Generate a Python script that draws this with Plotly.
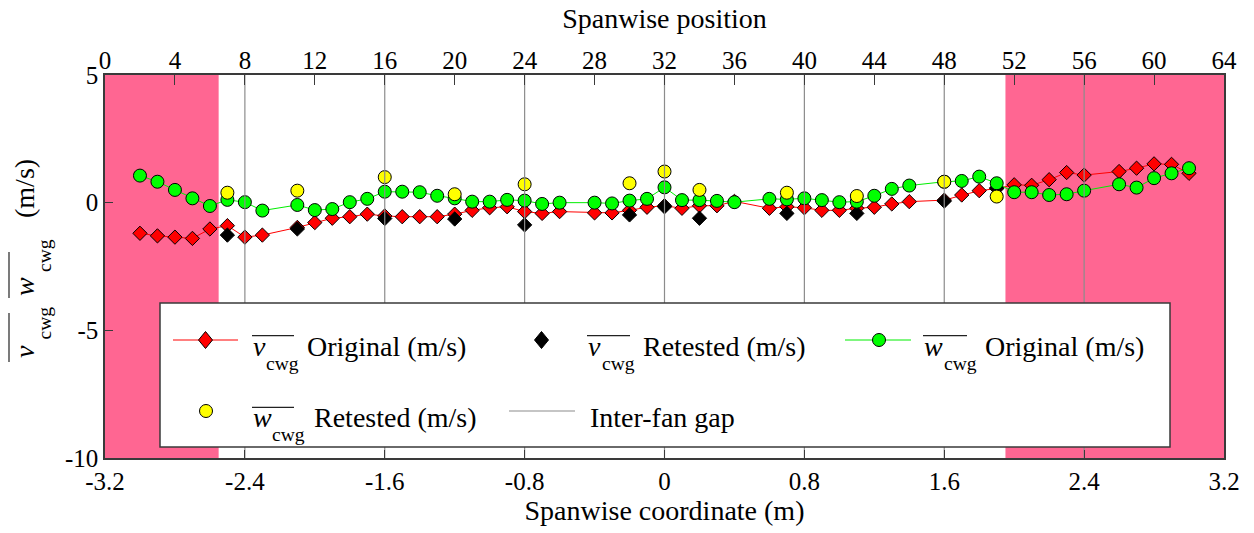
import plotly.graph_objects as go

# ---------------- data ----------------
pos_orig = [-3.0, -2.9, -2.8, -2.7, -2.6, -2.5, -2.4, -2.3, -2.1, -2.0, -1.9, -1.8, -1.7, -1.6,
            -1.5, -1.4, -1.3, -1.2, -1.1, -1.0, -0.9, -0.8, -0.7, -0.6, -0.4, -0.3, -0.2, -0.1,
            0.0, 0.1, 0.2, 0.3, 0.4, 0.6, 0.7, 0.8, 0.9, 1.0, 1.1, 1.2, 1.3, 1.4, 1.6, 1.7,
            1.8, 1.9, 2.0, 2.1, 2.2, 2.3, 2.4, 2.6, 2.7, 2.8, 2.9, 3.0]
v_orig = [-1.20, -1.30, -1.35, -1.40, -1.03, -0.90, -1.35, -1.27, -0.97, -0.78, -0.61, -0.55, -0.45, -0.52,
          -0.55, -0.55, -0.55, -0.45, -0.30, -0.20, -0.16, -0.35, -0.42, -0.35, -0.40, -0.40, -0.30, -0.18,
          -0.12, -0.22, -0.12, -0.12, 0.05, -0.22, -0.16, -0.20, -0.30, -0.30, -0.22, -0.18, -0.05, 0.04, 0.10, 0.30,
          0.47, 0.55, 0.70, 0.68, 0.90, 1.18, 1.08, 1.22, 1.35, 1.52, 1.50, 1.15]
w_orig = [1.06, 0.82, 0.50, 0.17, -0.13, 0.11, 0.02, -0.31, -0.09, -0.29, -0.25, 0.02, 0.15, 0.43,
          0.43, 0.41, 0.27, 0.17, 0.04, 0.04, 0.11, 0.08, -0.05, 0.00, 0.00, -0.03, 0.08, 0.15,
          0.60, 0.10, 0.10, 0.07, 0.02, 0.15, 0.13, 0.17, 0.10, 0.02, 0.04, 0.27, 0.54, 0.67, 0.82, 0.85,
          1.02, 0.76, 0.41, 0.41, 0.30, 0.33, 0.47, 0.72, 0.59, 0.96, 1.15, 1.35]

pos_retest = [-2.5, -2.1, -1.6, -1.2, -0.8, -0.2, 0.0, 0.2, 0.7, 1.1, 1.6, 1.9]
v_retest = [-1.27, -1.03, -0.62, -0.64, -0.87, -0.48, -0.16, -0.61, -0.42, -0.42, 0.06, 0.58]
w_retest = [0.39, 0.47, 1.00, 0.33, 0.72, 0.76, 1.22, 0.50, 0.39, 0.26, 0.82, 0.24]

gap_positions = [8, 16, 24, 32, 40, 48, 56]          # spanwise position (top axis)
shaded_regions = [(-3.2, -2.55), (1.95, 3.2)]        # spanwise coordinate (m)

x_ticks = [-3.2, -2.4, -1.6, -0.8, 0.0, 0.8, 1.6, 2.4, 3.2]
x_ticktext = ["-3.2", "-2.4", "-1.6", "-0.8", "0", "0.8", "1.6", "2.4", "3.2"]
top_ticks = list(range(0, 65, 4))
y_ticks = [-10, -5, 0, 5]
y_ticktext = ["-10", "-5", "0", "5"]

# ---------------- styling ----------------
FONT = "Liberation Serif"
AX = "#3a3a3a"
PINK = "#FF6692"
W, H = 1254, 533
ML, MR, MT, MB = 105, 30, 75, 75
PW, PH = W - ML - MR, H - MT - MB

def X(px):
    return (px - ML) / PW

def Y(py):
    return (H - MB - py) / PH

fig = go.Figure()

# inter-fan gap lines (top axis coordinates)
gx, gy = [], []
for g in gap_positions:
    gx += [g, g, None]
    gy += [-10, 5, None]
fig.add_trace(go.Scatter(x=gx, y=gy, xaxis="x2", yaxis="y", mode="lines",
                         line=dict(color="#8c8c8c", width=1.2), hoverinfo="skip", showlegend=False))

fig.add_trace(go.Scatter(x=pos_orig, y=v_orig, mode="lines+markers",
                         line=dict(color="#FF0000", width=1),
                         marker=dict(symbol="diamond", size=11, color="#FF0000",
                                     line=dict(color="black", width=1)), showlegend=False))
fig.add_trace(go.Scatter(x=pos_retest, y=v_retest, mode="markers",
                         marker=dict(symbol="diamond", size=11, color="black",
                                     line=dict(color="black", width=1)), showlegend=False))
fig.add_trace(go.Scatter(x=pos_orig, y=w_orig, mode="lines+markers",
                         line=dict(color="#00EE00", width=1),
                         marker=dict(symbol="circle", size=13, color="#00FF00",
                                     line=dict(color="black", width=1)), showlegend=False))
fig.add_trace(go.Scatter(x=pos_retest, y=w_retest, mode="markers",
                         marker=dict(symbol="circle", size=13, color="#FFFF00",
                                     line=dict(color="black", width=1)), showlegend=False))

shapes = []
for a, b in shaded_regions:
    shapes.append(dict(type="rect", xref="x", yref="paper", x0=a, x1=b, y0=0, y1=1,
                       fillcolor=PINK, line=dict(width=0), layer="below"))

# ---------------- manual legend ----------------
LB = dict(x0=160, x1=1170, y0=303, y1=447)
shapes.append(dict(type="rect", xref="paper", yref="paper", x0=X(LB["x0"]), x1=X(LB["x1"]),
                   y0=Y(LB["y1"]), y1=Y(LB["y0"]), fillcolor="white",
                   line=dict(color=AX, width=1.5), layer="above"))

def hline(x0, x1, y, color, width=1):
    shapes.append(dict(type="line", xref="paper", yref="paper", x0=X(x0), x1=X(x1), y0=Y(y), y1=Y(y),
                       line=dict(color=color, width=width), layer="above"))

def vline(x, y0, y1, color, width=1):
    shapes.append(dict(type="line", xref="paper", yref="paper", x0=X(x), x1=X(x), y0=Y(y0), y1=Y(y1),
                       line=dict(color=color, width=width), layer="above"))

def diamond(cx, cy, hw, hh, fill):
    path = "M {a},{b} L {c},{d} L {e},{f} L {g},{h} Z".format(
        a=X(cx - hw), b=Y(cy), c=X(cx), d=Y(cy - hh), e=X(cx + hw), f=Y(cy), g=X(cx), h=Y(cy + hh))
    shapes.append(dict(type="path", xref="paper", yref="paper", path=path, fillcolor=fill,
                       line=dict(color="black", width=1), layer="above"))

def circle(cx, cy, r, fill):
    shapes.append(dict(type="circle", xref="paper", yref="paper", x0=X(cx - r), x1=X(cx + r),
                       y0=Y(cy + r), y1=Y(cy - r), fillcolor=fill,
                       line=dict(color="black", width=1), layer="above"))

R1, R2 = 340, 411
hline(173, 238, R1, "#FF0000")
diamond(205.5, R1, 7, 8.5, "#FF0000")
diamond(541.5, R1, 7, 8.5, "black")
hline(845, 911, R1, "#00EE00")
circle(879, R1, 6.5, "#00FF00")
circle(206, R2, 6.5, "#FFFF00")
hline(509, 575, R2, "#8c8c8c", 1.2)

# overlines
hline(252, 294, 335.7, "#222222", 1.2)
hline(587, 630, 335.7, "#222222", 1.2)
hline(923, 967, 335.7, "#222222", 1.2)
hline(252, 294, 407.3, "#222222", 1.2)

annotations = []

def txt(s, px, py, size, angle=0, xanchor="left"):
    annotations.append(dict(text=s, xref="paper", yref="paper", x=X(px), y=Y(py),
                            xanchor=xanchor, yanchor="middle", showarrow=False, textangle=angle,
                            font=dict(family=FONT, size=size, color="black")))

LF, SF = 28, 19.6
# row 1
txt("<i>v</i>", 251, 346.5, LF)
txt("cwg", 264, 363.5, SF)
txt("Original (m/s)", 305, 346.5, LF)
txt("<i>v</i>", 586, 346.5, LF)
txt("cwg", 600, 363.5, SF)
txt("Retested (m/s)", 641, 346.5, LF)
txt("<i>w</i>", 922, 346.5, LF)
txt("cwg", 942, 363.5, SF)
txt("Original (m/s)", 983, 346.5, LF)
# row 2
txt("<i>w</i>", 251, 417.5, LF)
txt("cwg", 270, 434.5, SF)
txt("Retested (m/s)", 312, 417.5, LF)
txt("Inter-fan gap", 588, 417.5, LF)

# y-axis title (rotated pieces)
txt("<i>v</i>", 24, 351, LF, -90, "center")
txt("cwg", 44, 323.5, SF, -90, "center")
txt("<i>w</i>", 24, 286, LF, -90, "center")
txt("cwg", 44, 256, SF, -90, "center")
txt("(m/s)", 24, 188, LF, -90, "center")
vline(9, 313, 362, "#222222", 1.2)
vline(9, 252, 298, "#222222", 1.2)

fig.update_layout(
    width=W, height=H,
    margin=dict(l=ML, r=MR, t=MT, b=MB),
    paper_bgcolor="white", plot_bgcolor="white",
    font=dict(family=FONT, size=25, color="black"),
    showlegend=False,
    shapes=shapes, annotations=annotations,
    xaxis=dict(range=[-3.2, 3.2], tickvals=x_ticks, ticktext=x_ticktext,
               ticks="inside", ticklen=8, tickcolor=AX, tickwidth=1.2,
               showline=True, linecolor=AX, linewidth=1.5, mirror=True,
               showgrid=False, zeroline=False,
               tickfont=dict(family=FONT, size=25, color="black"),
               title=dict(text="Spanwise coordinate (m)", font=dict(family=FONT, size=28), standoff=4)),
    xaxis2=dict(range=[0, 64], overlaying="x", side="top", tickvals=top_ticks,
                ticks="inside", ticklen=10, tickcolor=AX, tickwidth=1.2,
                showline=False, showgrid=False, zeroline=False,
                tickfont=dict(family=FONT, size=25, color="black"),
                title=dict(text="Spanwise position", font=dict(family=FONT, size=28), standoff=10)),
    yaxis=dict(range=[-10, 5], tickvals=y_ticks, ticktext=y_ticktext,
               ticks="inside", ticklen=8, tickcolor=AX, tickwidth=1.2,
               showline=True, linecolor=AX, linewidth=1.5, mirror=True,
               showgrid=False, zeroline=False,
               tickfont=dict(family=FONT, size=25, color="black")),
)

fig.write_html("out.html")
